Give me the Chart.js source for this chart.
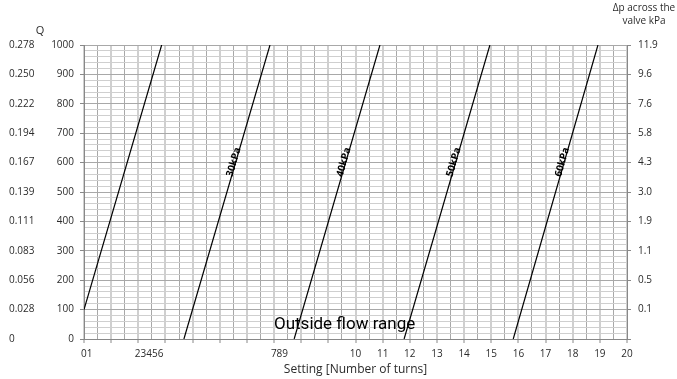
<!DOCTYPE html>
<html lang="en">
<head>
<meta charset="UTF-8">
<title>Setting chart</title>
<script src="https://cdn.jsdelivr.net/npm/chart.js"></script>
<style>
  html, body { margin: 0; padding: 0; background: #fff; }
  #wrap { width: 677px; height: 379px; }
</style>
</head>
<body>
<div id="wrap"><canvas id="chart"></canvas></div>
<script>
// pre-setting lines, Q at start/end of each line vs setting (turns)
const lineNames = ['', '30kPa', '40kPa', '50kPa', '60kPa'];
const lineStartX = [0, 3.68, 7.74, 11.79, 15.81];
const lineStartQ = [100, 0, 0, 0, 0];
const lineEndX = [2.86, 6.85, 10.9, 14.95, 18.93];
const lineEndQ = [1000, 1000, 1000, 1000, 1000];

// axis labels
const flowLabels = ['0', '0.028', '0.056', '0.083', '0.111', '0.139', '0.167', '0.194', '0.222', '0.250', '0.278'];
const dpLabels = ['', '0.1', '0.5', '1.1', '1.9', '3.0', '4.3', '5.8', '7.6', '9.6', '11.9'];
const xTickValues = [0.1, 2.4, 7.2, 10, 11, 12, 13, 14, 15, 16, 17, 18, 19, 20];
const xTickLabels = ['01', '23456', '789', '10', '11', '12', '13', '14', '15', '16', '17', '18', '19', '20'];

const textColor = '#2b2b2b';
const tickFont = { family: 'Open Sans', size: 10 };

// grid at every half turn + the odd label positions
const xGridValues = [];
for (let v = 0; v <= 20; v += 0.5) xGridValues.push(v);
const xAllTicks = Array.from(new Set(xGridValues.concat(xTickValues))).sort((a, b) => a - b);

const datasets = lineNames.map((name, i) => ({
  label: name,
  data: [{ x: lineStartX[i], y: lineStartQ[i] }, { x: lineEndX[i], y: lineEndQ[i] }],
  showLine: true,
  borderColor: '#000',
  borderWidth: 1.2,
  pointRadius: 0,
  fill: false
}));

const isHalf = v => Math.abs(v * 2 - Math.round(v * 2)) < 1e-6;
const isInt = v => Math.abs(v - Math.round(v)) < 1e-6;

const annotations = {
  id: 'annotations',
  afterDatasetsDraw(chart) {
    const { ctx, scales: { x, y } } = chart;
    ctx.save();
    ctx.fillStyle = textColor;
    ctx.textAlign = 'center';
    ctx.textBaseline = 'middle';
    ctx.font = '11px "Open Sans"';
    ctx.fillText('Q', 40, 31);
    ctx.font = '10px "Open Sans"';
    ctx.fillText('\u0394p across the', 644, 8);
    ctx.fillText('valve kPa', 644, 21);

    ctx.fillStyle = '#000';
    ctx.font = '17px Roboto';
    ctx.fillText('Outside flow range', x.getPixelForValue(9.6), y.getPixelForValue(48));

    // line labels along the lines
    ctx.font = 'bold 10px "Open Sans"';
    ctx.textBaseline = 'alphabetic';
    lineNames.forEach((name, i) => {
      if (!name) return;
      const q = 600;
      const xv = lineStartX[i] + (q - lineStartQ[i]) * (lineEndX[i] - lineStartX[i]) / (lineEndQ[i] - lineStartQ[i]);
      const px0 = x.getPixelForValue(lineStartX[i]), py0 = y.getPixelForValue(lineStartQ[i]);
      const px1 = x.getPixelForValue(lineEndX[i]), py1 = y.getPixelForValue(lineEndQ[i]);
      const ang = Math.atan2(py1 - py0, px1 - px0);
      ctx.save();
      ctx.translate(x.getPixelForValue(xv), y.getPixelForValue(q));
      ctx.rotate(ang);
      ctx.fillText(name, 0, 1);
      ctx.restore();
    });
    ctx.restore();
  }
};

new Chart(document.getElementById('chart'), {
  type: 'scatter',
  data: { datasets },
  plugins: [annotations],
  options: {
    responsive: true,
    maintainAspectRatio: false,
    animation: false,
    layout: { padding: { top: 45, left: 9, right: 0, bottom: 0 } },
    plugins: { legend: { display: false }, tooltip: { enabled: false } },
    scales: {
      x: {
        type: 'linear',
        min: 0,
        max: 20,
        afterBuildTicks(scale) { scale.ticks = xAllTicks.map(v => ({ value: v })); },
        afterFit(scale) { scale.height = 40; },
        ticks: {
          autoSkip: false,
          maxRotation: 0,
          minRotation: 0,
          padding: 5,
          color: textColor,
          font: tickFont,
          callback(value) {
            const k = xTickValues.findIndex(t => Math.abs(t - value) < 1e-6);
            return k >= 0 ? xTickLabels[k] : '';
          }
        },
        grid: {
          color(c) {
            const v = c.tick.value;
            if (isInt(v)) return '#cfcfcf';
            if (isHalf(v)) return '#a8a8a8';
            return 'rgba(0,0,0,0)';
          },
          lineWidth(c) { return isInt(c.tick.value) ? 2 : 1; },
          tickColor(c) { return isInt(c.tick.value) ? '#888' : 'rgba(0,0,0,0)'; },
          tickWidth: 1,
          tickLength: 4
        },
        border: { color: '#888' },
        title: {
          display: true,
          text: 'Setting [Number of turns]',
          color: textColor,
          font: { family: 'Open Sans', size: 12 },
          padding: { top: 0, bottom: 2 }
        }
      },
      y: {
        min: 0,
        max: 1000,
        position: 'left',
        weight: 0,
        afterFit(scale) { scale.width = 44; },
        ticks: {
          stepSize: 20,
          autoSkip: false,
          padding: 6,
          color: textColor,
          font: tickFont,
          callback(value) { return value % 100 === 0 ? String(value) : ''; }
        },
        grid: {
          color(c) { return c.tick.value % 100 === 0 ? '#a8a8a8' : '#cfcfcf'; },
          tickColor(c) { return c.tick.value % 100 === 0 ? '#888' : 'rgba(0,0,0,0)'; },
          tickLength: 4
        },
        border: { color: '#888' }
      },
      yFlow: {
        min: 0,
        max: 1000,
        position: 'left',
        weight: 1,
        afterFit(scale) { scale.width = 31; },
        ticks: {
          stepSize: 100,
          crossAlign: 'far',
          color: textColor,
          font: tickFont,
          callback(value) { return flowLabels[Math.round(value / 100)]; }
        },
        grid: { display: false },
        border: { display: false }
      },
      yDp: {
        min: 0,
        max: 1000,
        position: 'right',
        afterFit(scale) { scale.width = 50; },
        ticks: {
          stepSize: 100,
          padding: 7,
          color: textColor,
          font: tickFont,
          callback(value) { return dpLabels[Math.round(value / 100)]; }
        },
        grid: { drawOnChartArea: false, color: '#888', tickLength: 4 },
        border: { color: '#888' }
      }
    }
  }
});
</script>
</body>
</html>
